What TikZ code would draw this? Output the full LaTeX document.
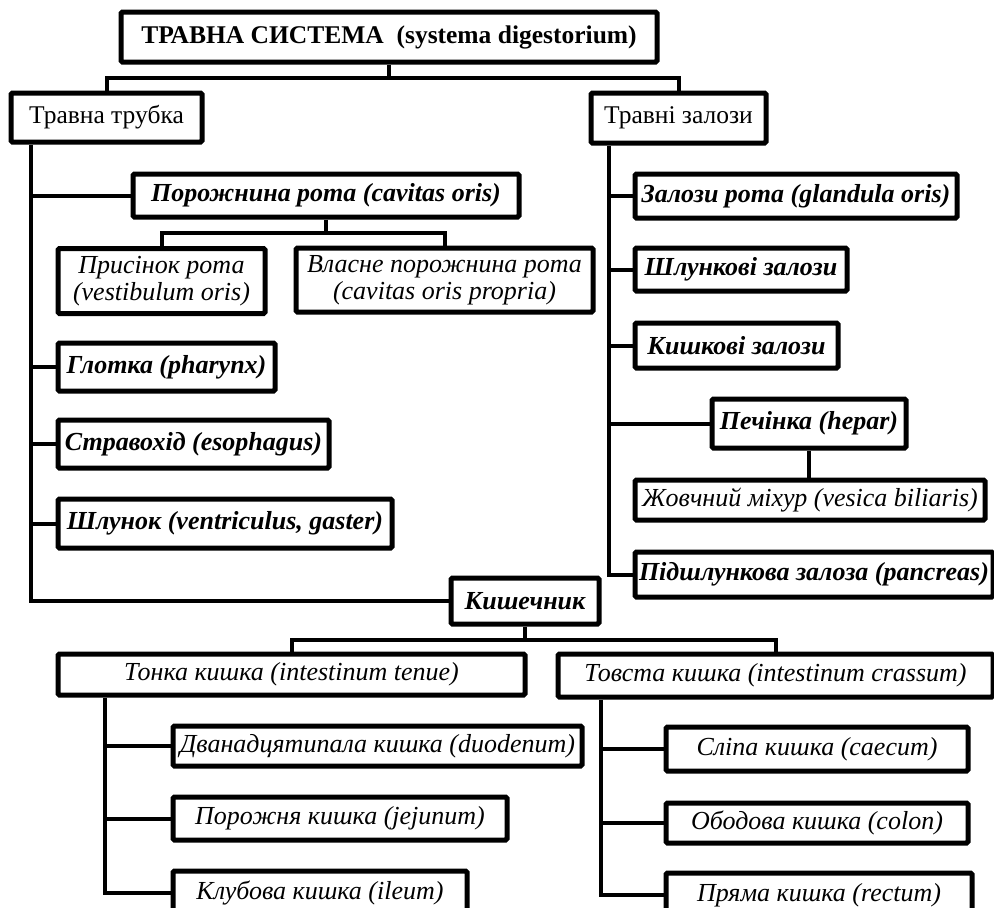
\documentclass[tikz,border=0pt]{standalone}
\usepackage{fontspec}
\setmainfont{Liberation Serif}
\begin{document}
\begin{tikzpicture}[x=1pt,y=-1pt,
  box/.style={draw, line width=5pt, rounded corners=1.5pt, inner sep=0pt,
              align=center, fill=white},
  conn/.style={line width=4pt},
  ttl/.style={font=\fontsize{25.5}{29}\selectfont\bfseries},
  rmf/.style={font=\fontsize{25.5}{28}\selectfont},
  bif/.style={font=\fontsize{26}{29}\selectfont\bfseries\itshape},
  itf/.style={font=\fontsize{26}{27}\selectfont\itshape}]
\useasboundingbox (0,0) rectangle (994,908);
\clip (0,0) rectangle (994,908);

% ---- top level ----
\node[box,ttl,minimum width=536pt,minimum height=50pt] (title) at (389,37)
  {ТРАВНА СИСТЕМА \ (systema digestorium)};
\node[box,rmf,minimum width=191pt,minimum height=49pt] (tt) at (106.5,117.5) {Травна трубка};
\node[box,rmf,minimum width=175pt,minimum height=50pt] (tz) at (678.5,118) {Травні залози};

% ---- digestive tube ----
\node[box,bif,minimum width=386pt,minimum height=43pt] (pr) at (326,195.5) {Порожнина рота (cavitas oris)};
\node[box,itf,minimum width=207pt,minimum height=65pt] (pv) at (161.5,281) {Присінок рота\\(vestibulum oris)};
\node[box,itf,minimum width=297pt,minimum height=64pt] (vp) at (444.5,280) {Власне порожнина рота\\(cavitas oris propria)};
\node[box,bif,minimum width=217pt,minimum height=48pt] (gl) at (166.5,367) {Глотка (pharynx)};
\node[box,bif,minimum width=271pt,minimum height=48pt] (st) at (193.5,444) {Стравохід (esophagus)};
\node[box,bif,minimum width=334pt,minimum height=49pt] (sh) at (225,523.5) {Шлунок (ventriculus, gaster)};
\node[box,bif,minimum width=148pt,minimum height=46pt] (ki) at (525,601) {Кишечник};

% ---- intestine ----
\node[box,itf,minimum width=467pt,minimum height=41pt] (tn) at (291.5,674.5) {Тонка кишка (intestinum tenue)};
\node[box,itf,minimum width=435pt,minimum height=43pt] (tv) at (775.5,675.5) {Товста кишка (intestinum crassum)};
\node[box,itf,minimum width=409pt,minimum height=40pt] (dv) at (377.5,746) {Дванадцятипала кишка (duodenum)};
\node[box,itf,minimum width=334pt,minimum height=43pt] (pj) at (340,818.5) {Порожня кишка (jejunum)};
\node[box,itf,minimum width=294pt,minimum height=44pt] (kl) at (320,893) {Клубова кишка (ileum)};
\node[box,itf,minimum width=302pt,minimum height=44pt] (sl) at (817,749) {Сліпа кишка (caecum)};
\node[box,itf,minimum width=302pt,minimum height=40pt] (ob) at (817,823) {Ободова кишка (colon)};
\node[box,itf,minimum width=306pt,minimum height=44pt] (pm) at (819,895) {Пряма кишка (rectum)};

% ---- digestive glands ----
\node[box,bif,minimum width=322pt,minimum height=44pt] (zr) at (796,196) {Залози рота (glandula oris)};
\node[box,bif,minimum width=212pt,minimum height=43pt] (shz) at (741,269.5) {Шлункові залози};
\node[box,bif,minimum width=203pt,minimum height=45pt] (kz) at (736.5,345.5) {Кишкові залози};
\node[box,bif,minimum width=194pt,minimum height=49pt] (pe) at (809,423.5) {Печінка (hepar)};
\node[box,itf,minimum width=350pt,minimum height=40pt] (zh) at (810,500) {Жовчний міхур (vesica biliaris)};
\node[box,bif,minimum width=358pt,minimum height=45pt] (pd) at (814,574.5) {Підшлункова залоза (pancreas)};

% ---- junction points ----
\coordinate (j1) at (title.south |- 0,78);
\coordinate (j2) at (pr.south |- 0,233);
\coordinate (j3) at (ki.south |- 0,640);
\coordinate (lt) at ([xshift=22pt]tt.south west);
\coordinate (rt) at ([xshift=20pt]tz.south west);
\coordinate (tnt) at ([xshift=49pt]tn.south west);
\coordinate (tvt) at ([xshift=45pt]tv.south west);

% top split
\draw[conn] (title.south) -- (j1);
\draw[conn] (tt.north) |- (j1) -| (tz.north);
% digestive tube trunk
\draw[conn] (lt) |- (ki.west);
\foreach \n in {pr,gl,st,sh} \draw[conn] (lt |- \n.west) -- (\n.west);
% oral cavity split
\draw[conn] (pr.south) -- (j2);
\draw[conn] (pv.north) |- (j2) -| (vp.north);
% glands trunk
\draw[conn] (rt) |- (pd.west);
\foreach \n in {zr,shz,kz,pe} \draw[conn] (rt |- \n.west) -- (\n.west);
\draw[conn] (pe.south) -- (pe.south |- zh.north);
% intestine split
\draw[conn] (ki.south) -- (j3);
\draw[conn] (tn.north) |- (j3) -| (tv.north);
% small intestine
\draw[conn] (tnt) |- (kl.west);
\foreach \n in {dv,pj} \draw[conn] (tnt |- \n.west) -- (\n.west);
% large intestine
\draw[conn] (tvt) |- (pm.west);
\foreach \n in {sl,ob} \draw[conn] (tvt |- \n.west) -- (\n.west);
\end{tikzpicture}
\end{document}
